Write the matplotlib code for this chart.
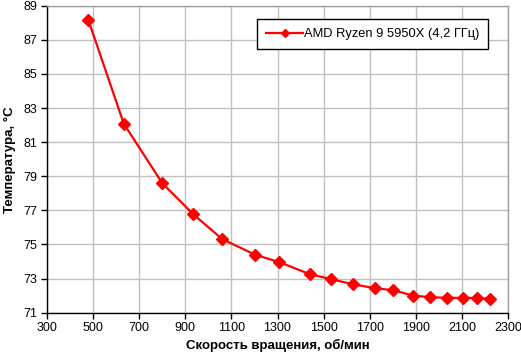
import matplotlib
matplotlib.use("Agg")
import matplotlib.pyplot as plt

plt.rcParams['font.family'] = ['Liberation Sans', 'DejaVu Sans']

rpm = [480, 634, 801, 935, 1061, 1203, 1308, 1440, 1533, 1626, 1724, 1802,
       1888, 1962, 2033, 2104, 2164, 2222]
temp = [88.18, 82.08, 78.59, 76.77, 75.31, 74.40, 73.96, 73.26, 72.96, 72.67,
        72.43, 72.32, 72.00, 71.91, 71.87, 71.87, 71.86, 71.81]
xticks = [300, 500, 700, 900, 1100, 1300, 1500, 1700, 1900, 2100, 2300]
yticks = [71, 73, 75, 77, 79, 81, 83, 85, 87, 89]
series_label = "AMD Ryzen 9 5950X (4,2 ГГц)"
xlabel = "Скорость вращения, об/мин"
ylabel = "Температура, °C"

fig = plt.figure(figsize=(5.21, 3.55), dpi=100)
W, H = 521, 355
ax = fig.add_axes([46.7 / W, 1 - 312.7 / H, (508.3 - 46.7) / W, (312.7 - 5.7) / H])

ax.plot(rpm, temp, color='#ff0000', lw=1.6, marker='D', markersize=6.5,
        markerfacecolor='#ff0000', markeredgecolor='#ff0000', label=series_label,
        clip_on=False, zorder=3)

ax.set_xlim(xticks[0], xticks[-1])
ax.set_ylim(yticks[0], yticks[-1])
ax.set_xticks(xticks)
ax.set_yticks(yticks)
ax.grid(True, color='#c0c0c0', lw=1)
ax.set_axisbelow(True)

for s in ['top', 'right']:
    ax.spines[s].set_color('#a0a0a0')
    ax.spines[s].set_linewidth(1)
for s in ['left', 'bottom']:
    ax.spines[s].set_color('black')
    ax.spines[s].set_linewidth(1)

ax.tick_params(axis='both', direction='out', length=4, width=1, color='black',
               labelsize=9, pad=3)

ax.set_xlabel(xlabel, fontsize=9.5, fontweight='bold', labelpad=3)
ax.set_ylabel(ylabel, fontsize=9.5, fontweight='bold', labelpad=5)

leg = ax.legend(loc='upper right', bbox_to_anchor=(488.3 / W, 1 - 19.3 / H),
                bbox_transform=fig.transFigure, fontsize=9.3, frameon=True,
                fancybox=False, borderpad=0.7, handlelength=2.8, markerscale=0.7,
                handletextpad=0.1, borderaxespad=0)
leg.get_frame().set_edgecolor('black')
leg.get_frame().set_linewidth(1)
leg.get_frame().set_facecolor('white')
leg.get_frame().set_alpha(1)

fig.savefig('out.png', dpi=100)
